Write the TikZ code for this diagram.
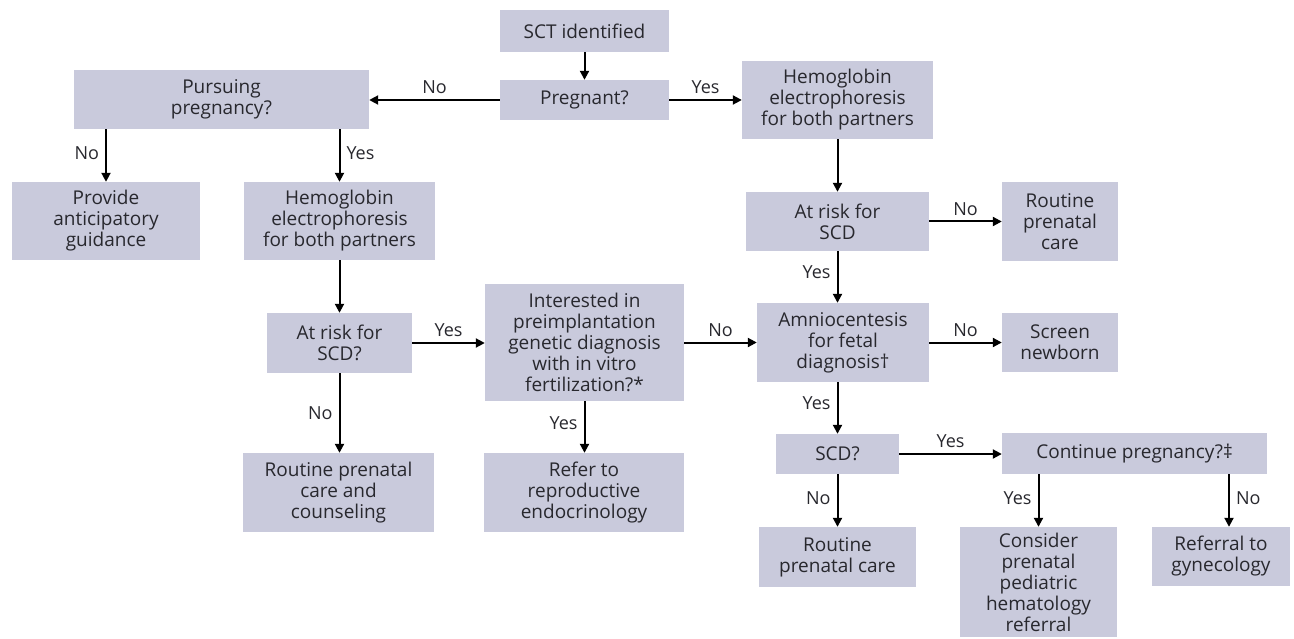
\documentclass[tikz,border=0pt]{standalone}
\usepackage{fontspec}
\setmainfont{Open Sans}
\usetikzlibrary{arrows.meta,calc}
\definecolor{boxfill}{RGB}{201,202,220}
\definecolor{txt}{RGB}{40,40,46}
\tikzset{
  box/.style={fill=boxfill, text=txt, align=center, inner sep=0pt,
    font=\fontsize{19}{21}\selectfont},
  arr/.style={line width=2pt, draw=black, -{Triangle[length=9pt,width=9pt]}},
  lbl/.style={text=txt, font=\fontsize{18}{21}\selectfont, inner sep=3pt}
}
\begin{document}
\begin{tikzpicture}[x=1pt,y=-1pt]
\useasboundingbox (0,0) rectangle (1294,639);
\node[box, minimum width=169, minimum height=42] (sct) at (584.5,31) {SCT identified};
\node[box, minimum width=169, minimum height=40] (preg) at (584.5,100) {Pregnant?};
\node[box, minimum width=295, minimum height=59] (pursue) at (221.5,99.5) {Pursuing\\pregnancy?};
\node[box, minimum width=191, minimum height=78] (hemoR) at (837.5,100) {Hemoglobin\\electrophoresis\\for both partners};
\node[box, minimum width=188, minimum height=78] (provide) at (106,221) {Provide\\anticipatory\\guidance};
\node[box, minimum width=191, minimum height=78] (hemoL) at (339.5,221) {Hemoglobin\\electrophoresis\\for both partners};
\node[box, minimum width=183, minimum height=59] (riskR) at (837.5,221.5) {At risk for\\SCD};
\node[box, minimum width=116, minimum height=79] (routineR) at (1060,221.5) {Routine\\prenatal\\care};
\node[box, minimum width=145, minimum height=60] (riskL) at (339.5,343) {At risk for\\SCD?};
\node[box, minimum width=199, minimum height=117] (interest) at (584.5,342.5) {Interested in\\preimplantation\\genetic diagnosis\\with in vitro\\fertilization?*};
\node[box, minimum width=172, minimum height=79] (amnio) at (843,342.5) {Amniocentesis\\for fetal\\diagnosis†};
\node[box, minimum width=116, minimum height=59] (screen) at (1060,342.5) {Screen\\newborn};
\node[box, minimum width=191, minimum height=79] (routineL) at (338.5,492.5) {Routine prenatal\\care and\\counseling};
\node[box, minimum width=200, minimum height=79] (refer) at (584,492.5) {Refer to\\reproductive\\endocrinology};
\node[box, minimum width=123, minimum height=40] (scd) at (837.5,454) {SCD?};
\node[box, minimum width=265, minimum height=41] (cont) at (1134.5,453.5) {Continue pregnancy?‡};
\node[box, minimum width=157, minimum height=60] (routineB) at (837.5,557) {Routine\\prenatal care};
\node[box, minimum width=157, minimum height=110] (consider) at (1038.5,582) {Consider\\prenatal\\pediatric\\hematology\\referral};
\node[box, minimum width=138, minimum height=59] (referral) at (1221,556.5) {Referral to\\gynecology};

\draw[arr] (sct) -- (preg);
\draw[arr] (preg.west) -- node[lbl, above, pos=0.5, yshift=2pt] {No} (preg.west -| pursue.east);
\draw[arr] (preg.east) -- node[lbl, above, pos=0.5, yshift=2pt] {Yes} (preg.east -| hemoR.west);
\draw[arr] (provide.north |- pursue.south) -- node[lbl, left, pos=0.45, xshift=-3pt] {No} (provide.north);
\draw[arr] (hemoL.north |- pursue.south) -- node[lbl, right, pos=0.45, xshift=3pt] {Yes} (hemoL.north);
\draw[arr] (hemoR) -- (riskR);
\draw[arr] (riskR.east) -- node[lbl, above, pos=0.5, yshift=2pt] {No} (riskR.east -| routineR.west);
\draw[arr] (riskR.south) -- node[lbl, left, pos=0.4, xshift=-3pt] {Yes} (riskR.south |- amnio.north);
\draw[arr] (hemoL) -- (riskL);
\draw[arr] (riskL.east) -- node[lbl, above, pos=0.5, yshift=2pt] {Yes} (riskL.east -| interest.west);
\draw[arr] (riskL.south) -- node[lbl, left, pos=0.5, xshift=-3pt] {No} (riskL.south |- routineL.north);
\draw[arr] (interest.east) -- node[lbl, above, pos=0.5, yshift=2pt] {No} (interest.east -| amnio.west);
\draw[arr] (interest.south) -- node[lbl, left, pos=0.42, xshift=-3pt] {Yes} (interest.south |- refer.north);
\draw[arr] (amnio.east) -- node[lbl, above, pos=0.5, yshift=2pt] {No} (amnio.east -| screen.west);
\draw[arr] (scd.north |- amnio.south) -- node[lbl, left, pos=0.4, xshift=-3pt] {Yes} (scd.north);
\draw[arr] (scd.east) -- node[lbl, above, pos=0.5, yshift=2pt] {Yes} (scd.east -| cont.west);
\draw[arr] (scd.south) -- node[lbl, left, pos=0.45, xshift=-3pt] {No} (routineB.north);
\draw[arr] (consider.north |- cont.south) -- node[lbl, left, pos=0.45, xshift=-3pt] {Yes} (consider.north);
\draw[arr] ([xshift=8pt]referral.north |- cont.south) -- node[lbl, right, pos=0.45, xshift=3pt] {No} ([xshift=8pt]referral.north);
\end{tikzpicture}
\end{document}
